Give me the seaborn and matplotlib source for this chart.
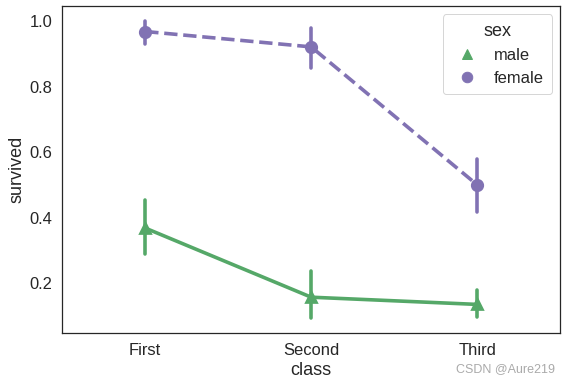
import pandas as pd
import matplotlib.pyplot as plt
from matplotlib.lines import Line2D
import seaborn as sns

classes = ["First", "Second", "Third"]
sexes = ["male", "female"]
# survival rate and confidence interval per class
male_mean = [0.368, 0.157, 0.135]
male_low = [0.288, 0.093, 0.098]
male_high = [0.454, 0.237, 0.178]
female_mean = [0.968, 0.921, 0.500]
female_low = [0.930, 0.856, 0.417]
female_high = [1.000, 0.979, 0.580]


def main():
    sns.set_theme(style="white", font_scale=1.5)
    plt.rcParams["font.family"] = ["Liberation Sans", "DejaVu Sans"]

    # three rows per point: low, mean, high -> median is the point, min/max the bar
    rows = []
    for sex, lo, mid, hi in [("male", male_low, male_mean, male_high),
                             ("female", female_low, female_mean, female_high)]:
        for i, c in enumerate(classes):
            for v in (lo[i], mid[i], hi[i]):
                rows.append({"class": c, "sex": sex, "survived": v})
    data = pd.DataFrame(rows)

    palette = {"male": "g", "female": "m"}
    markers = ["^", "o"]
    fig, ax = plt.subplots(figsize=(571 / 72, 385 / 72), dpi=72)
    sns.pointplot(x="class", y="survived", hue="sex", data=data,
                  order=classes, hue_order=sexes,
                  estimator="median", errorbar=lambda v: (v.min(), v.max()),
                  palette=palette, markers=markers, linestyles=["-", "--"],
                  linewidth=3.6, markersize=10.5, ax=ax)

    # old-style legend: markers only
    handles = [Line2D([], [], linestyle="none", marker=m, markersize=10.5,
                      color=palette[s])
               for s, m in zip(sexes, markers)]
    ax.legend(handles, sexes, title="sex", loc="upper right",
              handletextpad=0.6, borderpad=0.5)

    fig.subplots_adjust(left=0.109, right=0.981, bottom=0.135, top=0.984)
    fig.text(0.972, 0.025, "CSDN @Aure219", ha="right", va="bottom",
             fontsize=12.5, color="#aaaaaa")
    plt.savefig("out.png", dpi=72)


if __name__ == "__main__":
    main()
